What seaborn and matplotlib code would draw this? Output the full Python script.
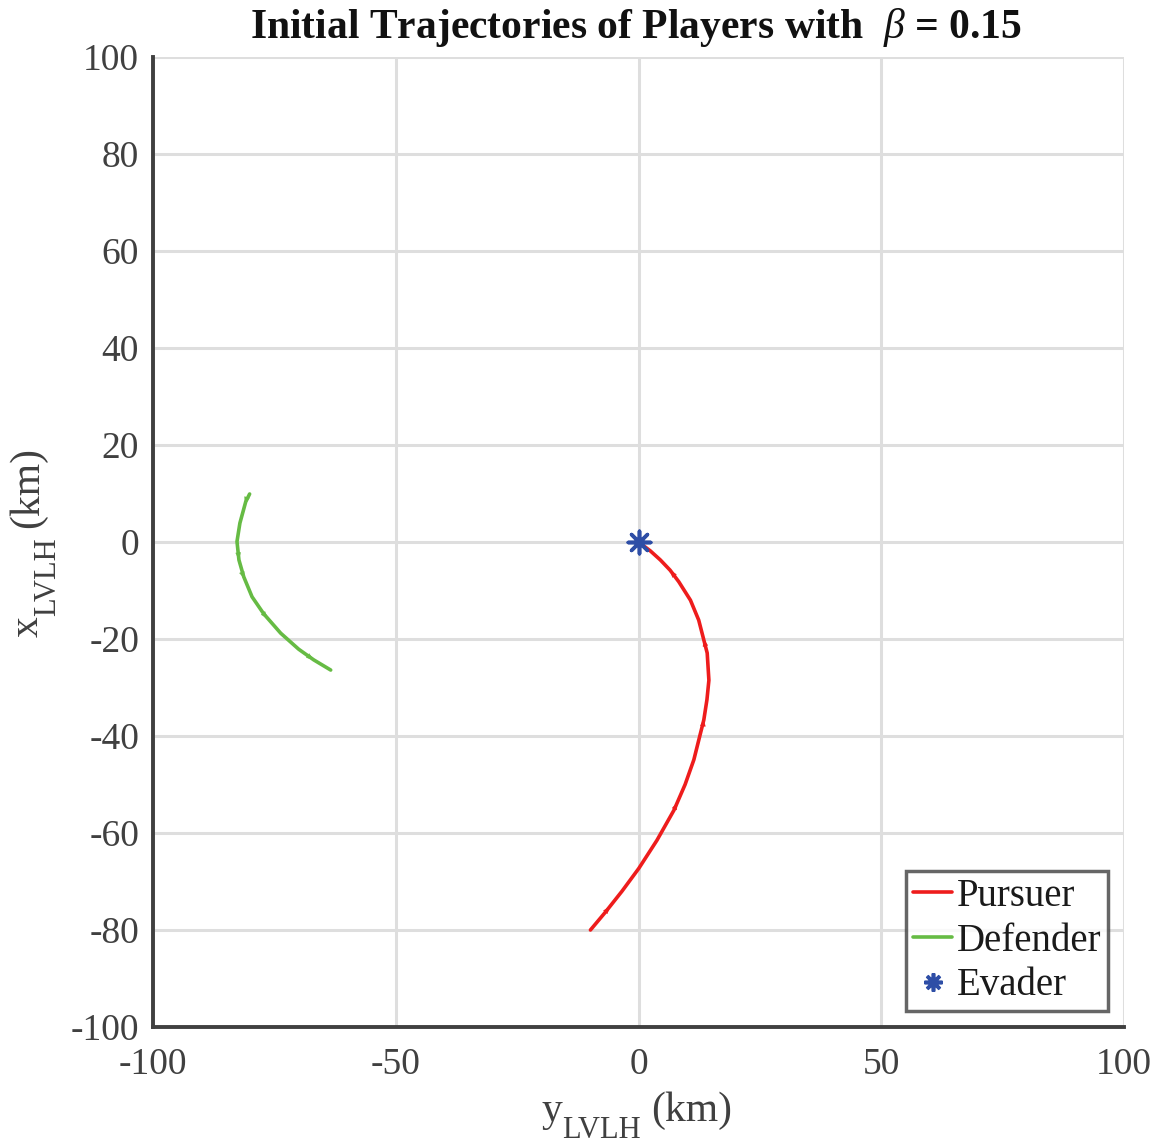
import numpy as np
import pandas as pd
import matplotlib
matplotlib.use("Agg")
import matplotlib.pyplot as plt
import seaborn as sns
from matplotlib.lines import Line2D

# ---- data (y_LVLH, x_LVLH in km) ----
pursuer_y = [-9.9, -6.8, -3.4, 0.06, 3.8, 7.3, 9.6, 11.4, 13.45, 14.1, 14.5, 14.15, 12.4, 10.7, 8.3, 6.5, 4.5, 2.4, 0.0]
pursuer_x = [-80.0, -76.3, -72.0, -67.3, -61.5, -55.3, -50.0, -44.9, -36.7, -32.5, -28.5, -22.9, -16.1, -12.0, -8.2, -5.8, -3.7, -1.8, 0.0]
defender_y = [-80.1, -80.9, -82.1, -82.7, -82.3, -81.3, -79.6, -77.2, -73.7, -70.0, -66.9, -63.4]
defender_x = [9.9, 8.3, 3.9, 0.1, -3.7, -7.2, -11.3, -14.8, -18.8, -22.1, -24.3, -26.4]
evader_y = [0.0]
evader_x = [0.0]
pursuer_arrow_idx = [1, 5, 8, 11, 14]
defender_arrow_idx = [1, 3, 5, 7, 9]

xticks = [-100, -50, 0, 50, 100]
yticks = [-100, -80, -60, -40, -20, 0, 20, 40, 60, 80, 100]

RED = "#ee1c1c"
GREEN = "#66bb44"
BLUE = "#2e4ea6"
AXC = "#404040"
W, H = 1160, 1147

sns.set_theme(style="white")
plt.rcParams["font.family"] = ["Liberation Serif", "DejaVu Serif"]
plt.rcParams["mathtext.fontset"] = "custom"
plt.rcParams["mathtext.rm"] = "Liberation Serif"
plt.rcParams["mathtext.it"] = "Liberation Serif:italic"
plt.rcParams["mathtext.bf"] = "Liberation Serif:bold"

fig = plt.figure(figsize=(W / 100, H / 100), dpi=100)
ax = fig.add_axes([153 / W, 1 - 1027 / H, (1124 - 153) / W, (1027 - 57) / H])

dfp = pd.DataFrame({"y": pursuer_y, "x": pursuer_x})
dfd = pd.DataFrame({"y": defender_y, "x": defender_x})
sns.lineplot(data=dfp, x="y", y="x", sort=False, estimator=None, color=RED, lw=2.6, ax=ax, zorder=3)
sns.lineplot(data=dfd, x="y", y="x", sort=False, estimator=None, color=GREEN, lw=2.6, ax=ax, zorder=3)
for l in ax.lines:
    l.set_solid_joinstyle("round")

for ys, xs, idx, c in [(pursuer_y, pursuer_x, pursuer_arrow_idx, RED),
                       (defender_y, defender_x, defender_arrow_idx, GREEN)]:
    for i in idx:
        ax.annotate("", xy=(ys[i + 1], xs[i + 1]), xytext=(ys[i], xs[i]),
                    arrowprops=dict(arrowstyle="-|>,head_length=0.6,head_width=0.22",
                                    color=c, lw=0.3, mutation_scale=8,
                                    shrinkA=0, shrinkB=14),
                    zorder=4)

sns.scatterplot(x=evader_y, y=evader_x, marker=(8, 2, 0), s=260, color=BLUE,
                edgecolor=BLUE, linewidth=2.6, ax=ax, zorder=5)

ax.set_xlim(-100, 100)
ax.set_ylim(-100, 100)
ax.set_xticks(xticks)
ax.set_yticks(yticks)
ax.set_xticklabels([str(t) for t in xticks])
ax.set_yticklabels([str(t) for t in yticks])
ax.grid(True, color="#dedede", lw=2.2)
ax.set_axisbelow(True)
for s in ["top", "right"]:
    ax.spines[s].set_visible(False)
for s in ["left", "bottom"]:
    ax.spines[s].set_color(AXC)
    ax.spines[s].set_linewidth(2.8)
ax.tick_params(axis="both", direction="in", length=10, width=2.8, color=AXC,
               labelsize=27, labelcolor=AXC)
ax.tick_params(axis="x", pad=15)
ax.tick_params(axis="y", pad=10)
ax.set_xlabel("")
ax.set_ylabel("")

# ---- title ----
fig.text(636 / W, 1 - 38 / H, r"Initial Trajectories of Players with  $\beta$ = 0.15",
         fontsize=30, fontweight="bold", color="#111111", ha="center", va="baseline")

# ---- axis labels with large subscripts ----
renderer = fig.canvas.get_renderer()


def text_width(s, size):
    t = fig.text(0, 0, s, fontsize=size)
    w = t.get_window_extent(renderer).width
    t.remove()
    return w


def sub_label(main, sub, tail, cx, cy, rot, msize=30, ssize=22, drop=17, gap=10):
    parts = [(main, msize, 0), (sub, ssize, drop), (tail, msize, 0)]
    widths = [text_width(p[0], p[1]) for p in parts]
    widths[1] += gap
    total = sum(widths)
    pos = -total / 2
    for (s, size, d), w in zip(parts, widths):
        if rot == 0:
            px, py = cx + pos, cy + d
        else:
            px, py = cx + d, cy - pos
        fig.text(px / W, 1 - py / H, s, fontsize=size, color=AXC, rotation=rot,
                 rotation_mode="anchor", ha="left", va="baseline")
        pos += w


sub_label("y", "LVLH", "(km)", 637, 1121, 0)
sub_label("x", "LVLH", "(km)", 38, 542, 90)

handles = [Line2D([0], [0], color=RED, lw=2.6),
           Line2D([0], [0], color=GREEN, lw=2.6),
           Line2D([0], [0], color=BLUE, lw=0, marker=(8, 2, 0), markersize=13,
                  markeredgewidth=2.6, markeredgecolor=BLUE)]
leg = ax.legend(handles, ["Pursuer", "Defender", "Evader"], loc="lower right",
                fontsize=28, frameon=True, fancybox=False, handlelength=1.0,
                handletextpad=0.12, borderpad=0.18, labelspacing=0.2,
                borderaxespad=0.4)
leg.get_frame().set_edgecolor(AXC)
leg.get_frame().set_linewidth(2.5)
for t in leg.get_texts():
    t.set_color("#1a1a1a")

fig.savefig("out.png", dpi=100)
